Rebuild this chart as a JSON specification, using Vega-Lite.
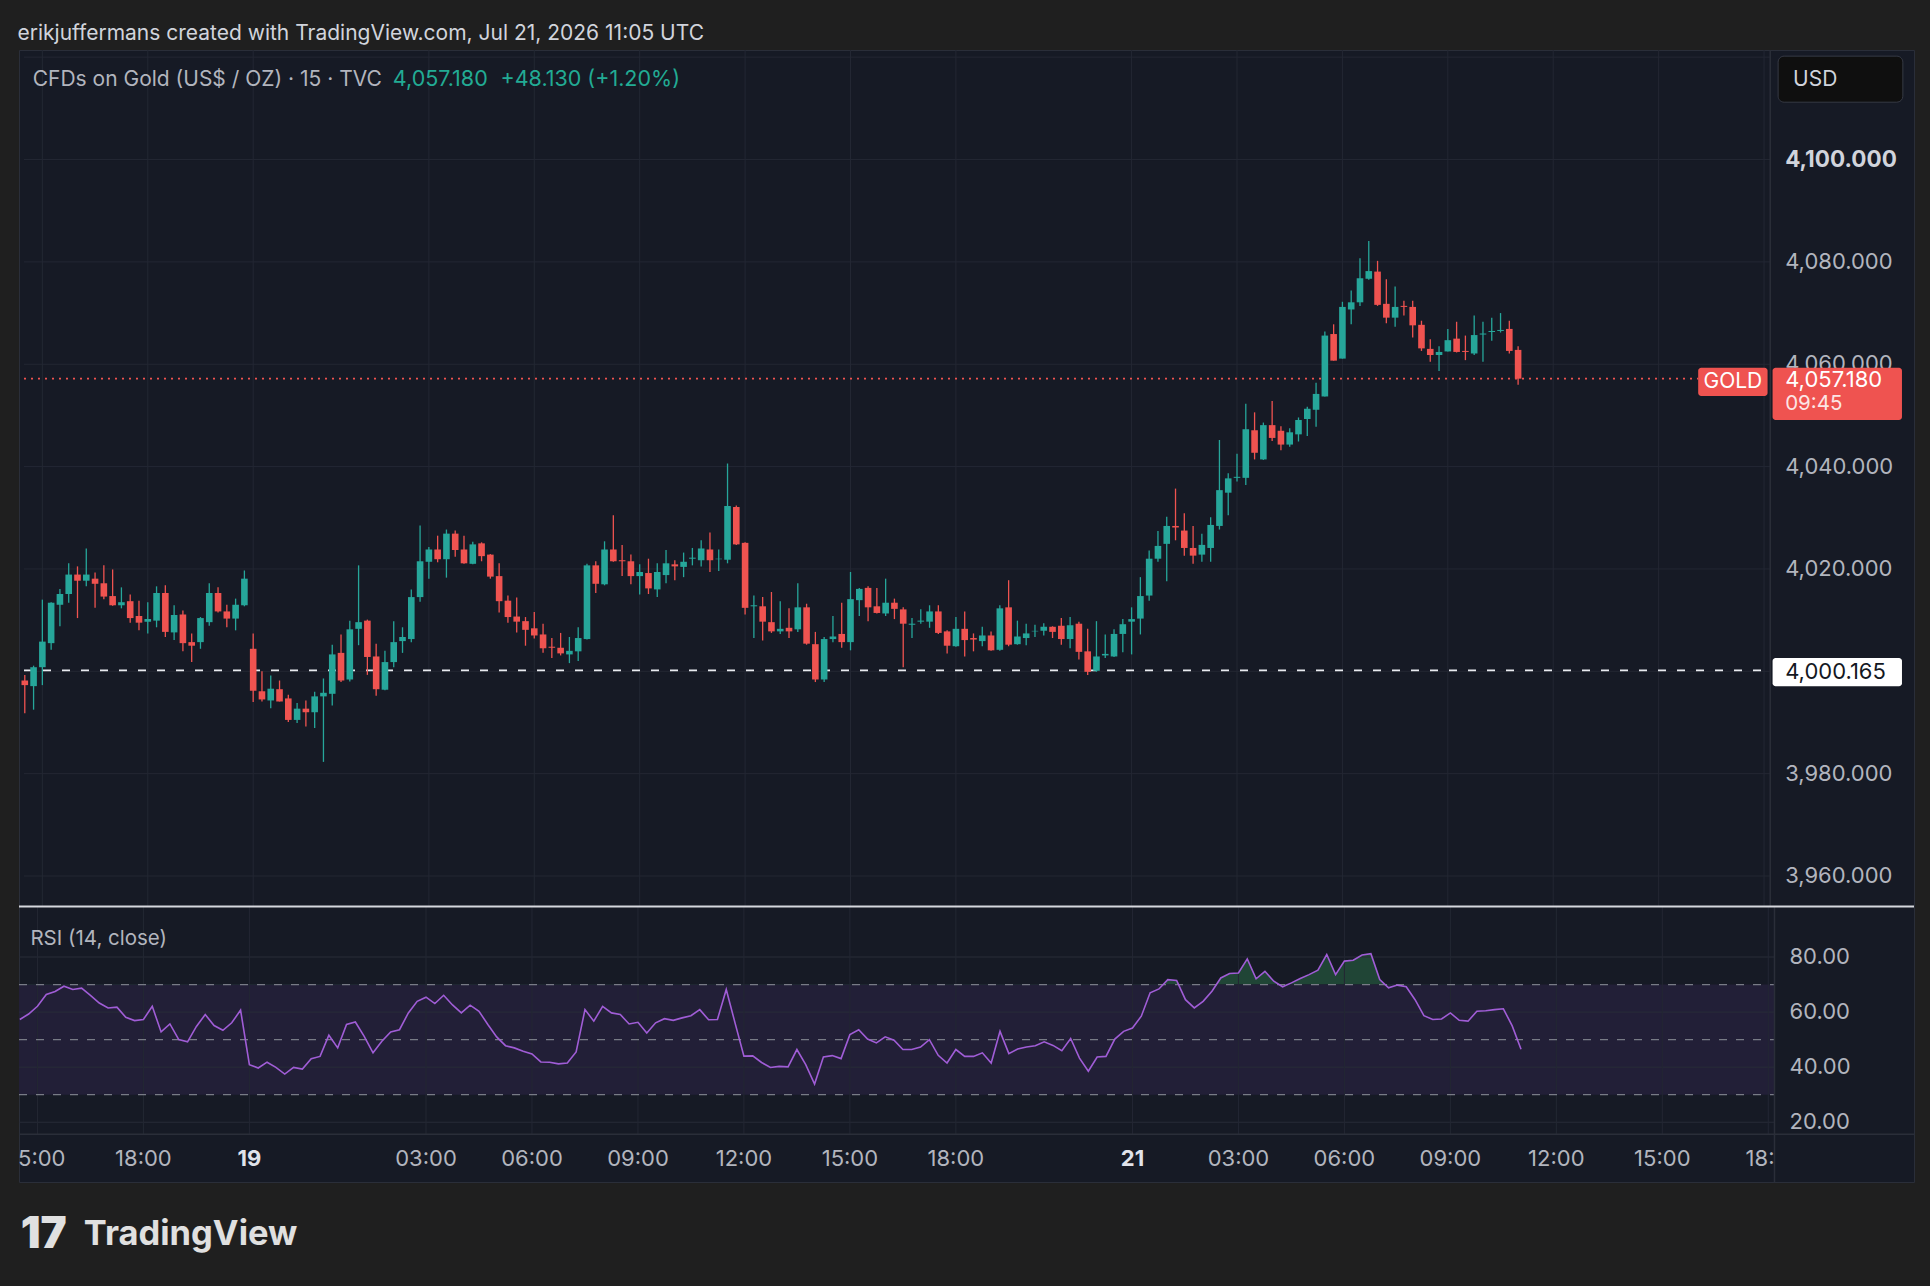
{
  "$schema": "https://vega.github.io/schema/vega-lite/v6.json",
  "background": "#1f1f1f",
  "padding": {"left": 17, "top": 22, "right": 18, "bottom": 0},
  "bounds": "flush",
  "spacing": 0,
  "title": {"text": "erikjuffermans created with TradingView.com, Jul 21, 2026 11:05 UTC", "anchor": "start", "font": "Inter", "fontSize": 21, "fontWeight": "normal", "color": "#d1d4dc", "offset": 5},
  "config": {"view": {"fill": "#161a25", "stroke": "#2a2e39", "strokeWidth": 1}, "font": "Inter"},
  "datasets": {
    "bars": [
      {"i":-26,"o":3998.2,"h":3999.3,"l":3991.8,"c":3997.3,"r":57.3},
      {"i":-25,"o":3997.1,"h":4001.1,"l":3992.5,"c":4000.8,"r":59.3},
      {"i":-24,"o":4000.8,"h":4014.0,"l":3997.3,"c":4005.8,"r":62.1},
      {"i":-23,"o":4005.5,"h":4013.5,"l":4004.2,"c":4013.4,"r":66.4},
      {"i":-22,"o":4013.0,"h":4016.1,"l":4008.8,"c":4015.1,"r":67.5},
      {"i":-21,"o":4015.1,"h":4021.1,"l":4013.4,"c":4018.9,"r":69.4},
      {"i":-20,"o":4018.9,"h":4020.5,"l":4010.4,"c":4017.7,"r":68.2},
      {"i":-19,"o":4017.7,"h":4024.0,"l":4016.6,"c":4018.9,"r":68.7},
      {"i":-18,"o":4018.1,"h":4019.3,"l":4012.4,"c":4017.1,"r":66.1},
      {"i":-17,"o":4017.2,"h":4020.7,"l":4014.1,"c":4014.6,"r":63.3},
      {"i":-16,"o":4014.7,"h":4019.9,"l":4012.8,"c":4012.9,"r":61.5},
      {"i":-15,"o":4012.9,"h":4016.4,"l":4012.3,"c":4013.5,"r":61.8},
      {"i":-14,"o":4013.7,"h":4015.0,"l":4009.5,"c":4010.4,"r":58.1},
      {"i":-13,"o":4010.8,"h":4013.8,"l":4008.0,"c":4009.5,"r":56.9},
      {"i":-12,"o":4009.7,"h":4013.5,"l":4007.4,"c":4010.2,"r":57.3},
      {"i":-11,"o":4009.9,"h":4016.6,"l":4008.6,"c":4015.3,"r":62.1},
      {"i":-10,"o":4015.3,"h":4016.8,"l":4006.7,"c":4007.7,"r":52.8},
      {"i":-9,"o":4007.6,"h":4012.9,"l":4006.1,"c":4011.0,"r":55.7},
      {"i":-8,"o":4011.1,"h":4011.9,"l":4003.9,"c":4005.5,"r":50.0},
      {"i":-7,"o":4005.7,"h":4007.4,"l":4001.8,"c":4005.0,"r":49.2},
      {"i":-6,"o":4005.7,"h":4010.6,"l":4004.4,"c":4010.4,"r":54.8},
      {"i":-5,"o":4009.6,"h":4017.2,"l":4008.9,"c":4015.3,"r":59.1},
      {"i":-4,"o":4015.3,"h":4016.4,"l":4011.5,"c":4011.7,"r":55.1},
      {"i":-3,"o":4011.7,"h":4013.0,"l":4008.6,"c":4010.3,"r":53.4},
      {"i":-2,"o":4010.3,"h":4014.2,"l":4008.0,"c":4013.0,"r":56.1},
      {"i":-1,"o":4012.9,"h":4019.7,"l":4012.7,"c":4018.1,"r":60.7},
      {"i":0,"o":4004.4,"h":4007.4,"l":3994.0,"c":3996.2,"r":40.9},
      {"i":1,"o":3996.1,"h":4000.0,"l":3994.1,"c":3994.5,"r":39.7},
      {"i":2,"o":3994.3,"h":3999.2,"l":3992.8,"c":3996.6,"r":41.8},
      {"i":3,"o":3996.5,"h":3998.2,"l":3994.1,"c":3994.1,"r":39.9},
      {"i":4,"o":3994.7,"h":3995.4,"l":3990.1,"c":3990.5,"r":37.5},
      {"i":5,"o":3990.5,"h":3993.8,"l":3989.9,"c":3992.7,"r":39.9},
      {"i":6,"o":3992.7,"h":3994.3,"l":3989.2,"c":3992.0,"r":39.3},
      {"i":7,"o":3992.0,"h":3996.0,"l":3988.9,"c":3995.1,"r":43.1},
      {"i":8,"o":3995.1,"h":3998.6,"l":3982.3,"c":3995.8,"r":43.9},
      {"i":9,"o":3995.6,"h":4005.2,"l":3993.3,"c":4003.3,"r":51.6},
      {"i":10,"o":4003.6,"h":4007.2,"l":3997.9,"c":3998.2,"r":47.0},
      {"i":11,"o":3998.4,"h":4009.9,"l":3998.0,"c":4008.2,"r":55.5},
      {"i":12,"o":4008.3,"h":4020.7,"l":4005.1,"c":4009.6,"r":56.4},
      {"i":13,"o":4009.9,"h":4010.1,"l":3999.3,"c":4002.8,"r":51.2},
      {"i":14,"o":4002.9,"h":4005.4,"l":3995.2,"c":3996.5,"r":45.2},
      {"i":15,"o":3996.4,"h":4004.0,"l":3996.3,"c":4001.8,"r":49.4},
      {"i":16,"o":4001.8,"h":4009.8,"l":4000.8,"c":4005.7,"r":52.8},
      {"i":17,"o":4005.9,"h":4008.6,"l":4003.6,"c":4006.7,"r":53.6},
      {"i":18,"o":4006.3,"h":4016.0,"l":4005.7,"c":4014.5,"r":59.7},
      {"i":19,"o":4014.5,"h":4028.5,"l":4013.6,"c":4021.5,"r":63.9},
      {"i":20,"o":4021.4,"h":4024.3,"l":4018.1,"c":4023.8,"r":65.4},
      {"i":21,"o":4023.8,"h":4026.5,"l":4021.3,"c":4021.9,"r":63.1},
      {"i":22,"o":4021.9,"h":4027.7,"l":4018.3,"c":4026.9,"r":66.1},
      {"i":23,"o":4026.9,"h":4027.5,"l":4022.4,"c":4023.7,"r":62.6},
      {"i":24,"o":4023.8,"h":4026.5,"l":4021.0,"c":4021.1,"r":59.7},
      {"i":25,"o":4021.0,"h":4025.3,"l":4020.9,"c":4024.8,"r":62.5},
      {"i":26,"o":4025.0,"h":4025.2,"l":4021.5,"c":4022.5,"r":60.3},
      {"i":27,"o":4022.8,"h":4022.9,"l":4018.1,"c":4018.5,"r":55.5},
      {"i":28,"o":4018.6,"h":4021.1,"l":4011.5,"c":4013.7,"r":51.0},
      {"i":29,"o":4013.8,"h":4014.8,"l":4009.5,"c":4010.6,"r":47.8},
      {"i":30,"o":4010.7,"h":4014.4,"l":4007.6,"c":4009.7,"r":47.0},
      {"i":31,"o":4009.8,"h":4010.6,"l":4005.0,"c":4008.1,"r":45.8},
      {"i":32,"o":4008.4,"h":4011.6,"l":4006.4,"c":4007.0,"r":44.8},
      {"i":33,"o":4007.2,"h":4009.3,"l":4003.6,"c":4004.5,"r":41.9},
      {"i":34,"o":4004.8,"h":4006.5,"l":4002.6,"c":4004.6,"r":41.8},
      {"i":35,"o":4004.6,"h":4007.5,"l":4003.1,"c":4003.5,"r":41.2},
      {"i":36,"o":4003.3,"h":4006.7,"l":4001.6,"c":4004.0,"r":41.5},
      {"i":37,"o":4003.9,"h":4008.6,"l":4002.0,"c":4006.5,"r":45.5},
      {"i":38,"o":4006.3,"h":4021.0,"l":4006.2,"c":4020.7,"r":60.9},
      {"i":39,"o":4020.7,"h":4021.5,"l":4015.3,"c":4017.1,"r":56.7},
      {"i":40,"o":4017.0,"h":4025.4,"l":4016.8,"c":4023.8,"r":62.1},
      {"i":41,"o":4023.8,"h":4030.5,"l":4021.4,"c":4021.5,"r":59.7},
      {"i":42,"o":4021.7,"h":4024.7,"l":4018.6,"c":4021.5,"r":59.1},
      {"i":43,"o":4021.5,"h":4022.8,"l":4017.0,"c":4018.6,"r":55.7},
      {"i":44,"o":4018.6,"h":4020.9,"l":4015.0,"c":4019.4,"r":56.3},
      {"i":45,"o":4019.2,"h":4022.0,"l":4015.1,"c":4016.2,"r":52.4},
      {"i":46,"o":4016.0,"h":4021.1,"l":4014.5,"c":4019.4,"r":56.1},
      {"i":47,"o":4018.8,"h":4023.7,"l":4017.2,"c":4021.1,"r":57.6},
      {"i":48,"o":4020.9,"h":4021.7,"l":4017.8,"c":4020.5,"r":57.0},
      {"i":49,"o":4020.4,"h":4023.2,"l":4018.4,"c":4021.4,"r":57.9},
      {"i":50,"o":4022.0,"h":4024.1,"l":4020.7,"c":4022.2,"r":58.7},
      {"i":51,"o":4021.7,"h":4025.6,"l":4020.5,"c":4024.0,"r":60.9},
      {"i":52,"o":4023.8,"h":4027.1,"l":4019.4,"c":4021.7,"r":57.2},
      {"i":53,"o":4021.9,"h":4023.8,"l":4019.6,"c":4022.0,"r":57.3},
      {"i":54,"o":4021.8,"h":4040.6,"l":4021.1,"c":4032.3,"r":68.2},
      {"i":55,"o":4032.1,"h":4032.4,"l":4024.7,"c":4024.8,"r":56.0},
      {"i":56,"o":4025.1,"h":4025.2,"l":4011.1,"c":4012.4,"r":44.0},
      {"i":57,"o":4012.7,"h":4014.8,"l":4006.5,"c":4012.9,"r":44.1},
      {"i":58,"o":4012.7,"h":4014.5,"l":4006.0,"c":4009.7,"r":41.7},
      {"i":59,"o":4009.6,"h":4015.5,"l":4007.5,"c":4007.8,"r":39.9},
      {"i":60,"o":4007.8,"h":4013.7,"l":4007.3,"c":4008.3,"r":40.3},
      {"i":61,"o":4008.5,"h":4012.3,"l":4006.5,"c":4007.8,"r":40.1},
      {"i":62,"o":4008.2,"h":4017.2,"l":4007.7,"c":4012.5,"r":46.4},
      {"i":63,"o":4012.5,"h":4013.2,"l":4005.2,"c":4005.4,"r":40.9},
      {"i":64,"o":4005.3,"h":4007.7,"l":3997.9,"c":3998.4,"r":33.9},
      {"i":65,"o":3998.4,"h":4006.7,"l":3997.9,"c":4006.3,"r":43.7},
      {"i":66,"o":4006.3,"h":4010.8,"l":4005.7,"c":4006.8,"r":44.2},
      {"i":67,"o":4007.3,"h":4013.4,"l":4004.6,"c":4005.7,"r":43.1},
      {"i":68,"o":4005.7,"h":4019.4,"l":4004.1,"c":4014.1,"r":51.8},
      {"i":69,"o":4013.9,"h":4016.3,"l":4010.8,"c":4016.1,"r":53.6},
      {"i":70,"o":4016.3,"h":4016.6,"l":4009.8,"c":4012.5,"r":50.2},
      {"i":71,"o":4012.7,"h":4016.3,"l":4011.3,"c":4011.4,"r":48.8},
      {"i":72,"o":4011.3,"h":4018.1,"l":4010.8,"c":4013.4,"r":51.0},
      {"i":73,"o":4013.4,"h":4014.2,"l":4010.2,"c":4012.2,"r":49.8},
      {"i":74,"o":4012.1,"h":4012.5,"l":4000.8,"c":4009.3,"r":46.4},
      {"i":75,"o":4009.1,"h":4010.4,"l":4006.5,"c":4009.3,"r":46.4},
      {"i":76,"o":4009.7,"h":4012.1,"l":4009.3,"c":4009.9,"r":47.3},
      {"i":77,"o":4009.7,"h":4012.9,"l":4008.5,"c":4011.7,"r":50.0},
      {"i":78,"o":4011.7,"h":4012.9,"l":4007.3,"c":4007.5,"r":44.3},
      {"i":79,"o":4007.8,"h":4008.0,"l":4003.5,"c":4005.0,"r":41.5},
      {"i":80,"o":4004.9,"h":4010.6,"l":4004.8,"c":4008.3,"r":46.4},
      {"i":81,"o":4008.3,"h":4011.7,"l":4002.9,"c":4006.1,"r":43.9},
      {"i":82,"o":4006.5,"h":4007.4,"l":4003.9,"c":4006.2,"r":43.9},
      {"i":83,"o":4005.9,"h":4008.7,"l":4004.9,"c":4007.0,"r":45.2},
      {"i":84,"o":4007.0,"h":4007.8,"l":4004.0,"c":4004.1,"r":41.5},
      {"i":85,"o":4004.2,"h":4012.9,"l":4004.0,"c":4012.3,"r":53.0},
      {"i":86,"o":4012.5,"h":4017.8,"l":4004.9,"c":4005.2,"r":44.9},
      {"i":87,"o":4005.3,"h":4009.9,"l":4005.2,"c":4006.8,"r":46.6},
      {"i":88,"o":4006.5,"h":4009.3,"l":4005.1,"c":4007.4,"r":47.3},
      {"i":89,"o":4007.8,"h":4009.1,"l":4006.7,"c":4007.9,"r":47.8},
      {"i":90,"o":4007.9,"h":4009.4,"l":4007.0,"c":4008.7,"r":49.2},
      {"i":91,"o":4008.7,"h":4008.8,"l":4006.5,"c":4007.7,"r":47.9},
      {"i":92,"o":4008.9,"h":4010.4,"l":4005.2,"c":4006.3,"r":46.0},
      {"i":93,"o":4006.3,"h":4010.6,"l":4004.5,"c":4009.0,"r":50.4},
      {"i":94,"o":4009.3,"h":4009.7,"l":4002.3,"c":4003.8,"r":43.3},
      {"i":95,"o":4003.9,"h":4008.3,"l":3999.3,"c":3999.9,"r":38.5},
      {"i":96,"o":4000.1,"h":4009.8,"l":3999.9,"c":4002.9,"r":43.7},
      {"i":97,"o":4003.1,"h":4007.2,"l":4002.6,"c":4003.4,"r":43.9},
      {"i":98,"o":4002.9,"h":4008.2,"l":4002.8,"c":4007.3,"r":50.2},
      {"i":99,"o":4007.3,"h":4010.2,"l":4003.7,"c":4009.2,"r":53.0},
      {"i":100,"o":4009.7,"h":4012.5,"l":4003.3,"c":4010.2,"r":54.2},
      {"i":101,"o":4010.3,"h":4018.4,"l":4007.2,"c":4014.7,"r":58.5},
      {"i":102,"o":4014.8,"h":4023.6,"l":4013.8,"c":4022.0,"r":67.0},
      {"i":103,"o":4022.0,"h":4027.4,"l":4021.4,"c":4024.5,"r":68.4},
      {"i":104,"o":4024.9,"h":4030.2,"l":4017.6,"c":4028.4,"r":71.8},
      {"i":105,"o":4028.4,"h":4035.7,"l":4025.6,"c":4028.1,"r":71.5},
      {"i":106,"o":4027.5,"h":4030.9,"l":4022.6,"c":4024.1,"r":64.5},
      {"i":107,"o":4024.1,"h":4028.4,"l":4021.0,"c":4022.6,"r":61.5},
      {"i":108,"o":4022.8,"h":4026.9,"l":4021.4,"c":4024.7,"r":63.9},
      {"i":109,"o":4024.1,"h":4030.1,"l":4021.4,"c":4028.6,"r":67.6},
      {"i":110,"o":4028.4,"h":4045.2,"l":4027.7,"c":4035.4,"r":72.4},
      {"i":111,"o":4034.9,"h":4038.7,"l":4030.5,"c":4037.7,"r":74.0},
      {"i":112,"o":4037.8,"h":4042.5,"l":4037.1,"c":4038.0,"r":74.2},
      {"i":113,"o":4037.8,"h":4052.3,"l":4036.4,"c":4047.3,"r":79.3},
      {"i":114,"o":4047.1,"h":4050.6,"l":4041.4,"c":4042.7,"r":72.1},
      {"i":115,"o":4041.4,"h":4048.6,"l":4041.3,"c":4048.1,"r":74.8},
      {"i":116,"o":4048.1,"h":4052.8,"l":4045.0,"c":4045.6,"r":71.2},
      {"i":117,"o":4047.0,"h":4047.9,"l":4043.2,"c":4044.3,"r":69.2},
      {"i":118,"o":4044.3,"h":4047.5,"l":4043.9,"c":4046.7,"r":70.6},
      {"i":119,"o":4046.3,"h":4049.6,"l":4044.9,"c":4049.1,"r":72.2},
      {"i":120,"o":4049.3,"h":4051.7,"l":4046.0,"c":4051.3,"r":73.6},
      {"i":121,"o":4051.1,"h":4056.4,"l":4047.8,"c":4054.2,"r":75.2},
      {"i":122,"o":4053.7,"h":4066.4,"l":4053.7,"c":4065.6,"r":80.9},
      {"i":123,"o":4065.9,"h":4067.8,"l":4060.7,"c":4060.7,"r":73.6},
      {"i":124,"o":4061.1,"h":4072.2,"l":4061.1,"c":4071.2,"r":78.5},
      {"i":125,"o":4070.7,"h":4074.4,"l":4067.8,"c":4072.1,"r":78.8},
      {"i":126,"o":4072.1,"h":4080.7,"l":4071.4,"c":4076.8,"r":80.7},
      {"i":127,"o":4076.7,"h":4084.1,"l":4076.5,"c":4078.2,"r":81.2},
      {"i":128,"o":4078.1,"h":4080.2,"l":4071.4,"c":4071.6,"r":71.8},
      {"i":129,"o":4071.8,"h":4076.6,"l":4068.0,"c":4069.1,"r":68.8},
      {"i":130,"o":4069.1,"h":4075.2,"l":4067.3,"c":4071.2,"r":69.8},
      {"i":131,"o":4071.4,"h":4072.4,"l":4069.5,"c":4071.2,"r":69.2},
      {"i":132,"o":4071.2,"h":4072.4,"l":4065.2,"c":4067.6,"r":64.5},
      {"i":133,"o":4067.7,"h":4068.5,"l":4062.6,"c":4063.1,"r":58.7},
      {"i":134,"o":4063.0,"h":4064.9,"l":4060.5,"c":4061.8,"r":57.3},
      {"i":135,"o":4061.8,"h":4063.5,"l":4058.7,"c":4062.4,"r":57.5},
      {"i":136,"o":4062.5,"h":4066.9,"l":4062.5,"c":4064.7,"r":59.7},
      {"i":137,"o":4065.0,"h":4068.3,"l":4062.3,"c":4062.4,"r":57.0},
      {"i":138,"o":4062.6,"h":4065.6,"l":4060.8,"c":4062.4,"r":56.7},
      {"i":139,"o":4062.1,"h":4069.5,"l":4061.8,"c":4065.7,"r":60.3},
      {"i":140,"o":4065.8,"h":4068.3,"l":4060.5,"c":4066.0,"r":60.5},
      {"i":141,"o":4066.3,"h":4069.1,"l":4064.6,"c":4066.5,"r":60.9},
      {"i":142,"o":4066.5,"h":4070.0,"l":4066.2,"c":4066.7,"r":61.2},
      {"i":143,"o":4066.9,"h":4068.5,"l":4062.1,"c":4062.6,"r":55.0},
      {"i":144,"o":4062.8,"h":4063.5,"l":4056.0,"c":4057.18,"r":46.5}
    ],
    "pgrid": [{"p":3960},{"p":3980},{"p":4000},{"p":4020},{"p":4040},{"p":4060},{"p":4080},{"p":4100},{"p":4120}],
    "plab": [{"p":3960},{"p":3980},{"p":4020},{"p":4040},{"p":4060},{"p":4080}],
    "plabb": [{"p":4100}],
    "rgrid": [{"v":20},{"v":40},{"v":60},{"v":80}],
    "hl": [{"v":30},{"v":50},{"v":70}],
    "vt": [{"t":-24},{"t":-12},{"t":0},{"t":20},{"t":32},{"t":44},{"t":56},{"t":68},{"t":80},{"t":100},{"t":112},{"t":124},{"t":136},{"t":148},{"t":160},{"t":172}],
    "tlab": [{"t":-12,"s":"18:00"},{"t":20,"s":"03:00"},{"t":32,"s":"06:00"},{"t":44,"s":"09:00"},{"t":56,"s":"12:00"},{"t":68,"s":"15:00"},{"t":80,"s":"18:00"},{"t":112,"s":"03:00"},{"t":124,"s":"06:00"},{"t":136,"s":"09:00"},{"t":148,"s":"12:00"},{"t":160,"s":"15:00"}],
    "tlabb": [{"t":0,"s":"19"},{"t":100,"s":"21"}],
    "tlabl": [{"t":-26.2,"s":"5:00"}],
    "tlabr": [{"t":172.7,"s":"18:"}]
  },
  "vconcat": [
    {
      "width": 1895,
      "height": 856,
      "layer": [
        {
          "data": {"name": "pgrid"},
          "mark": {"type": "rule", "color": "#232733", "strokeWidth": 1},
          "encoding": {
            "y": {"field": "p", "type": "quantitative", "scale": {"domain": [3954.14, 4121.4], "nice": false, "zero": false}, "axis": null},
            "x": {"datum": -26.09, "type": "quantitative", "scale": {"domain": [-26.09, 188.5], "nice": false, "zero": false}, "axis": null},
            "x2": {"datum": 172.7}
          }
        },
        {
          "data": {"name": "vt"},
          "mark": {"type": "rule", "color": "#232733", "strokeWidth": 1},
          "encoding": {"x": {"field": "t", "type": "quantitative", "axis": null}}
        },
        {
          "data": {"values": [{}]},
          "mark": {"type": "rule", "color": "#2a2e39", "strokeWidth": 1.5},
          "encoding": {"x": {"datum": 172.7, "type": "quantitative", "axis": null}}
        },
        {
          "data": {"name": "plab"},
          "mark": {"type": "text", "align": "left", "baseline": "middle", "fontSize": 22, "color": "#b2b5be", "font": "Inter"},
          "encoding": {"x": {"datum": 174.4, "type": "quantitative", "axis": null}, "y": {"field": "p", "type": "quantitative", "axis": null}, "text": {"field": "p", "type": "quantitative", "format": ",.3f"}}
        },
        {
          "data": {"name": "plabb"},
          "mark": {"type": "text", "align": "left", "baseline": "middle", "fontSize": 22.5, "fontWeight": "bold", "color": "#d1d4dc", "font": "Inter"},
          "encoding": {"x": {"datum": 174.4, "type": "quantitative", "axis": null}, "y": {"field": "p", "type": "quantitative", "axis": null}, "text": {"field": "p", "type": "quantitative", "format": ",.3f"}}
        },
        {
          "data": {"values": [{}]},
          "mark": {"type": "rule", "color": "#e8eaef", "strokeWidth": 1.8, "strokeDash": [8, 11]},
          "encoding": {"y": {"datum": 4000.165, "type": "quantitative", "axis": null}, "x": {"datum": -26.09, "type": "quantitative", "axis": null}, "x2": {"datum": 172.7}}
        },
        {
          "data": {"values": [{}]},
          "mark": {"type": "rule", "color": "#ef5350", "strokeWidth": 1.6, "strokeDash": [2, 5]},
          "encoding": {"y": {"datum": 4057.18, "type": "quantitative", "axis": null}, "x": {"datum": -26.09, "type": "quantitative", "axis": null}, "x2": {"datum": 164.5}}
        },
        {
          "data": {"name": "bars"},
          "mark": {"type": "rule", "strokeWidth": 1.3, "clip": true},
          "encoding": {
            "x": {"field": "i", "type": "quantitative", "axis": null},
            "y": {"field": "l", "type": "quantitative", "axis": null},
            "y2": {"field": "h"},
            "color": {"condition": {"test": "datum.c >= datum.o", "value": "#26a69a"}, "value": "#ef5350"}
          }
        },
        {
          "data": {"name": "bars"},
          "mark": {"type": "bar", "width": 6.6, "clip": true},
          "encoding": {
            "x": {"field": "i", "type": "quantitative", "axis": null},
            "y": {"field": "o", "type": "quantitative", "axis": null},
            "y2": {"field": "c"},
            "color": {"condition": {"test": "datum.c >= datum.o", "value": "#26a69a"}, "value": "#ef5350"}
          }
        },
        {
          "data": {"values": [{}]},
          "mark": {"type": "rect", "color": "#ffffff", "cornerRadius": 3},
          "encoding": {"x": {"datum": 172.97, "type": "quantitative", "axis": null}, "x2": {"datum": 187.7}, "y": {"datum": 3997.1, "type": "quantitative", "axis": null}, "y2": {"datum": 4002.6}}
        },
        {
          "data": {"values": [{"t": "4,000.165"}]},
          "mark": {"type": "text", "align": "left", "baseline": "middle", "fontSize": 22, "color": "#131722", "font": "Inter"},
          "encoding": {"x": {"datum": 174.4, "type": "quantitative", "axis": null}, "y": {"datum": 3999.8, "type": "quantitative", "axis": null}, "text": {"field": "t"}}
        },
        {
          "data": {"values": [{}]},
          "mark": {"type": "rect", "color": "#ef5350", "cornerRadius": 3},
          "encoding": {"x": {"datum": 164.5, "type": "quantitative", "axis": null}, "x2": {"datum": 172.4}, "y": {"datum": 4053.8, "type": "quantitative", "axis": null}, "y2": {"datum": 4059.3}}
        },
        {
          "data": {"values": [{"t": "GOLD"}]},
          "mark": {"type": "text", "align": "center", "baseline": "middle", "fontSize": 21, "color": "#ffffff", "font": "Inter"},
          "encoding": {"x": {"datum": 168.45, "type": "quantitative", "axis": null}, "y": {"datum": 4056.5, "type": "quantitative", "axis": null}, "text": {"field": "t"}}
        },
        {
          "data": {"values": [{}]},
          "mark": {"type": "rect", "color": "#ef5350", "cornerRadius": 3},
          "encoding": {"x": {"datum": 172.97, "type": "quantitative", "axis": null}, "x2": {"datum": 187.7}, "y": {"datum": 4049.1, "type": "quantitative", "axis": null}, "y2": {"datum": 4059.3}}
        },
        {
          "data": {"values": [{"t": "4,057.180"}]},
          "mark": {"type": "text", "align": "left", "baseline": "middle", "fontSize": 22, "color": "#ffffff", "font": "Inter"},
          "encoding": {"x": {"datum": 174.4, "type": "quantitative", "axis": null}, "y": {"datum": 4056.9, "type": "quantitative", "axis": null}, "text": {"field": "t"}}
        },
        {
          "data": {"values": [{"t": "09:45"}]},
          "mark": {"type": "text", "align": "left", "baseline": "middle", "fontSize": 20.5, "color": "#ffffff", "opacity": 0.85, "font": "Inter"},
          "encoding": {"x": {"datum": 174.4, "type": "quantitative", "axis": null}, "y": {"datum": 4052.2, "type": "quantitative", "axis": null}, "text": {"field": "t"}}
        },
        {
          "data": {"values": [{}]},
          "mark": {"type": "rect", "color": "#0f0f0f", "stroke": "#363a45", "strokeWidth": 1, "cornerRadius": 6},
          "encoding": {"x": {"datum": 173.6, "type": "quantitative", "axis": null}, "x2": {"datum": 187.8}, "y": {"datum": 4111.2, "type": "quantitative", "axis": null}, "y2": {"datum": 4120.2}}
        },
        {
          "data": {"values": [{"t": "USD"}]},
          "mark": {"type": "text", "align": "left", "baseline": "middle", "fontSize": 21, "color": "#d1d4dc", "font": "Inter"},
          "encoding": {"x": {"datum": 175.3, "type": "quantitative", "axis": null}, "y": {"datum": 4115.6, "type": "quantitative", "axis": null}, "text": {"field": "t"}}
        },
        {
          "data": {"values": [{"t": "CFDs on Gold (US$ / OZ) · 15 · TVC"}]},
          "mark": {"type": "text", "align": "left", "baseline": "middle", "fontSize": 21, "color": "#b2b5be", "font": "Inter"},
          "encoding": {"x": {"datum": -25.1, "type": "quantitative", "axis": null}, "y": {"datum": 4115.6, "type": "quantitative", "axis": null}, "text": {"field": "t"}}
        },
        {
          "data": {"values": [{"t": "4,057.180"}]},
          "mark": {"type": "text", "align": "left", "baseline": "middle", "fontSize": 21.5, "color": "#22ab94", "font": "Inter"},
          "encoding": {"x": {"datum": 15.9, "type": "quantitative", "axis": null}, "y": {"datum": 4115.6, "type": "quantitative", "axis": null}, "text": {"field": "t"}}
        },
        {
          "data": {"values": [{"t": "+48.130 (+1.20%)"}]},
          "mark": {"type": "text", "align": "left", "baseline": "middle", "fontSize": 21.5, "color": "#22ab94", "font": "Inter"},
          "encoding": {"x": {"datum": 28.15, "type": "quantitative", "axis": null}, "y": {"datum": 4115.6, "type": "quantitative", "axis": null}, "text": {"field": "t"}}
        }
      ]
    },
    {
      "width": 1895,
      "height": 276,
      "layer": [
        {
          "data": {"name": "bars"},
          "mark": {"type": "area", "color": "#2a6a45", "opacity": 0.55, "clip": true},
          "encoding": {
            "x": {"field": "i", "type": "quantitative", "scale": {"domain": [-26.09, 188.5], "nice": false, "zero": false}, "axis": null},
            "y": {"field": "r", "type": "quantitative", "scale": {"domain": [-1.7, 98.52], "nice": false, "zero": false}, "axis": null},
            "y2": {"datum": 70}
          }
        },
        {
          "data": {"values": [{}]},
          "mark": {"type": "rect", "color": "#221f37", "opacity": 1},
          "encoding": {"x": {"datum": -26.09, "type": "quantitative", "axis": null}, "x2": {"datum": 172.7}, "y": {"datum": 30, "type": "quantitative", "axis": null}, "y2": {"datum": 70}}
        },
        {
          "data": {"name": "rgrid"},
          "mark": {"type": "rule", "color": "#282c38", "strokeWidth": 1},
          "encoding": {
            "y": {"field": "v", "type": "quantitative", "axis": null},
            "x": {"datum": -26.09, "type": "quantitative", "axis": null},
            "x2": {"datum": 172.7}
          }
        },
        {
          "data": {"name": "rgrid"},
          "mark": {"type": "text", "align": "left", "baseline": "middle", "fontSize": 22, "color": "#b2b5be", "font": "Inter"},
          "encoding": {"x": {"datum": 174.4, "type": "quantitative", "axis": null}, "y": {"field": "v", "type": "quantitative", "axis": null}, "text": {"field": "v", "type": "quantitative", "format": ".2f"}}
        },
        {
          "data": {"name": "vt"},
          "mark": {"type": "rule", "color": "#232733", "strokeWidth": 1},
          "encoding": {
            "x": {"field": "t", "type": "quantitative", "axis": null},
            "y": {"datum": 15.6, "type": "quantitative", "axis": null},
            "y2": {"datum": 98.52}
          }
        },
        {
          "data": {"name": "hl"},
          "mark": {"type": "rule", "color": "#787b86", "strokeWidth": 1.3, "strokeDash": [8, 9]},
          "encoding": {
            "y": {"field": "v", "type": "quantitative", "axis": null},
            "x": {"datum": -26.09, "type": "quantitative", "axis": null},
            "x2": {"datum": 172.7}
          }
        },
        {
          "data": {"name": "bars"},
          "mark": {"type": "line", "color": "#a05dd6", "strokeWidth": 1.6, "clip": true},
          "encoding": {
            "x": {"field": "i", "type": "quantitative", "axis": null},
            "y": {"field": "r", "type": "quantitative", "axis": null}
          }
        },
        {
          "data": {"values": [{}]},
          "mark": {"type": "rule", "color": "#2a2e39", "strokeWidth": 1.5},
          "encoding": {"x": {"datum": 172.7, "type": "quantitative", "axis": null}}
        },
        {
          "data": {"values": [{}]},
          "mark": {"type": "rule", "color": "#2a2e39", "strokeWidth": 1.5},
          "encoding": {"y": {"datum": 15.6, "type": "quantitative", "axis": null}, "x": {"datum": -26.09, "type": "quantitative", "axis": null}, "x2": {"datum": 188.5}}
        },
        {
          "data": {"values": [{}]},
          "mark": {"type": "rule", "color": "#d6d8de", "strokeWidth": 2},
          "encoding": {"y": {"datum": 98.3, "type": "quantitative", "axis": null}, "x": {"datum": -26.09, "type": "quantitative", "axis": null}, "x2": {"datum": 188.5}}
        },
        {
          "data": {"name": "tlab"},
          "mark": {"type": "text", "align": "center", "baseline": "middle", "fontSize": 22, "color": "#b2b5be", "font": "Inter"},
          "encoding": {"x": {"field": "t", "type": "quantitative", "axis": null}, "y": {"datum": 6.65, "type": "quantitative", "axis": null}, "text": {"field": "s"}}
        },
        {
          "data": {"name": "tlabb"},
          "mark": {"type": "text", "align": "center", "baseline": "middle", "fontSize": 22, "fontWeight": "bold", "color": "#e0e3eb", "font": "Inter"},
          "encoding": {"x": {"field": "t", "type": "quantitative", "axis": null}, "y": {"datum": 6.65, "type": "quantitative", "axis": null}, "text": {"field": "s"}}
        },
        {
          "data": {"name": "tlabl"},
          "mark": {"type": "text", "align": "left", "baseline": "middle", "fontSize": 22, "color": "#b2b5be", "font": "Inter"},
          "encoding": {"x": {"field": "t", "type": "quantitative", "axis": null}, "y": {"datum": 6.65, "type": "quantitative", "axis": null}, "text": {"field": "s"}}
        },
        {
          "data": {"name": "tlabr"},
          "mark": {"type": "text", "align": "right", "baseline": "middle", "fontSize": 22, "color": "#b2b5be", "font": "Inter"},
          "encoding": {"x": {"field": "t", "type": "quantitative", "axis": null}, "y": {"datum": 6.65, "type": "quantitative", "axis": null}, "text": {"field": "s"}}
        },
        {
          "data": {"values": [{"t": "RSI (14, close)"}]},
          "mark": {"type": "text", "align": "left", "baseline": "middle", "fontSize": 20.5, "color": "#b2b5be", "font": "Inter"},
          "encoding": {"x": {"datum": -24.8, "type": "quantitative", "axis": null}, "y": {"datum": 86.5, "type": "quantitative", "axis": null}, "text": {"field": "t"}}
        },
        {
          "data": {"values": [{"t": "17"}]},
          "mark": {"type": "text", "align": "left", "baseline": "middle", "fontSize": 44, "fontWeight": 900, "color": "#e0e0e0", "font": "Inter"},
          "encoding": {"x": {"datum": -25.9, "type": "quantitative", "axis": null}, "y": {"datum": -20.9, "type": "quantitative", "axis": null}, "text": {"field": "t"}}
        },
        {
          "data": {"values": [{"t": "TradingView"}]},
          "mark": {"type": "text", "align": "left", "baseline": "middle", "fontSize": 34.5, "fontWeight": 700, "color": "#e0e0e0", "font": "Inter"},
          "encoding": {"x": {"datum": -18.75, "type": "quantitative", "axis": null}, "y": {"datum": -20.9, "type": "quantitative", "axis": null}, "text": {"field": "t"}}
        },
        {
          "data": {"values": [{}]},
          "mark": {"type": "rule", "color": "#1f1f1f", "strokeWidth": 1},
          "encoding": {"y": {"datum": -40.0, "type": "quantitative", "axis": null}, "x": {"datum": -26.09, "type": "quantitative", "axis": null}, "x2": {"datum": -20}}
        }
      ]
    }
  ]
}
